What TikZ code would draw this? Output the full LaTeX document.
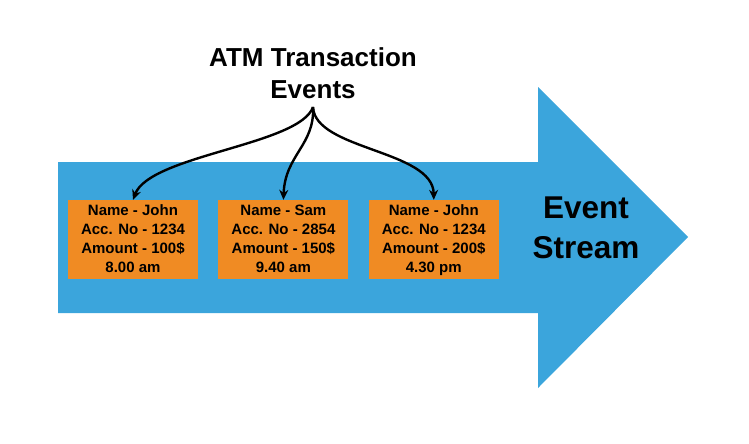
\documentclass[tikz,border=0pt]{standalone}
\usepackage{fontspec}
\setmainfont{Liberation Sans}
\usepackage{tikz}
\usetikzlibrary{arrows.meta,positioning,calc}

\definecolor{streamblue}{RGB}{59,165,220}
\definecolor{eventorange}{RGB}{240,139,35}

\begin{document}
\begin{tikzpicture}[x=1pt,y=-1pt,
                    eventbox/.style={fill=eventorange, minimum width=130pt, minimum height=79pt,
                        inner sep=0pt, align=center, text height=68pt, text depth=3pt,
                        font=\fontsize{15}{19}\selectfont\bfseries},
                    feed/.style={-{Stealth[length=10pt,width=9pt]}, line width=2.4pt}]
                    \useasboundingbox (0,0) rectangle (749,444);
                    % the stream
                    \fill[streamblue] (58,162) -- (538,162) -- (538,87) -- (688,237)
                        -- (538,388) -- (538,313) -- (58,313) -- cycle;
                    \node[anchor=north, inner sep=0pt, align=center,
                        font=\fontsize{31.5}{40}\selectfont\bfseries] (stream) at (586,196.5) {Event\\Stream};
                    % the events
                    \node[eventbox] (john) at (133,239.5) {Name - John\\Acc. No - 1234\\Amount - 100\$\\8.00 am};
                    \node[eventbox, right=20pt of john] (sam) {Name - Sam\\Acc. No - 2854\\Amount - 150\$\\9.40 am};
                    \node[eventbox, right=20pt of sam] (johnlate) {Name - John\\Acc. No - 1234\\Amount - 200\$\\4.30 pm};
                    \node[anchor=north, inner sep=0pt, align=center,
                        font=\fontsize{26}{32}\selectfont\bfseries] (title) at (313,47) {ATM Transaction\\Events};
                    \coordinate (fork) at (313,107);
                    \draw[feed] (fork) .. controls (300,145) and (150,155) .. (john.north);
                    \draw[feed] (fork) .. controls (315,145) and (285,155) .. (sam.north);
                    \draw[feed] (fork) .. controls (315,150) and (433,150) .. (johnlate.north);
                \end{tikzpicture}
\end{document}
